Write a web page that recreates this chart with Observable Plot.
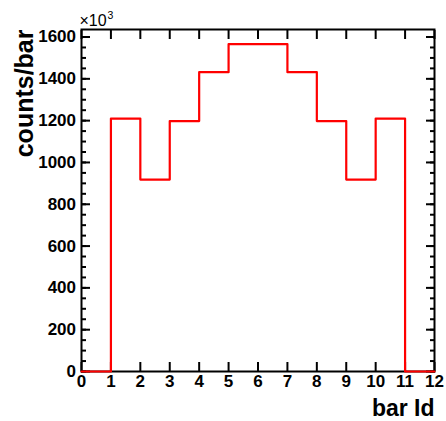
<!DOCTYPE html>
<html>
<head>
<meta charset="utf-8">
<script src="https://cdn.jsdelivr.net/npm/d3@7"></script>
<script src="https://cdn.jsdelivr.net/npm/@observablehq/plot@0.6"></script>
<style>
  html, body { margin: 0; padding: 0; background: #fff; }
  svg { display: block; }
</style>
</head>
<body>
<div id="chart"></div>
<script>
// Histogram data: bar id bins [0,12), counts per bin
const binEdges = [0, 1, 2, 3, 4, 5, 6, 7, 8, 9, 10, 11, 12];
const counts = [0, 1210, 918, 1198, 1432, 1566, 1566, 1432, 1198, 918, 1210, 0];
const xTicks = [0, 1, 2, 3, 4, 5, 6, 7, 8, 9, 10, 11, 12];
const yMajorTicks = [0, 200, 400, 600, 800, 1000, 1200, 1400, 1600];
const yMinorTicks = d3.range(0, 1601, 50);

const stepData = binEdges.map((e, i) => ({x: e, y: counts[Math.min(i, counts.length - 1)]}));

const font = "'Liberation Sans', Arial, Helvetica, sans-serif";

const chart = Plot.plot({
  width: 446,
  height: 421,
  marginLeft: 81,
  marginRight: 12,
  marginTop: 29,
  marginBottom: 50,
  style: {fontFamily: font, color: "#000", background: "#fff"},
  x: {domain: [0, 12]},
  y: {domain: [0, 1636]},
  marks: [
    // tick labels
    Plot.axisX(xTicks, {anchor: "bottom", tickSize: 0, tickPadding: 3, fontSize: 17, fontWeight: "bold", label: null, tickFormat: d => String(d)}),
    Plot.axisY(yMajorTicks, {anchor: "left", tickSize: 0, tickPadding: 5.5, fontSize: 17, fontWeight: "bold", label: null, tickFormat: d => String(d)}),
    // inward ticks
    Plot.axisX(xTicks, {anchor: "bottom", tickSize: -9, fill: "none", strokeWidth: 2, label: null}),
    Plot.axisX(xTicks, {anchor: "top", tickSize: -9, fill: "none", strokeWidth: 2, label: null}),
    Plot.axisY(yMajorTicks, {anchor: "left", tickSize: -9, fill: "none", strokeWidth: 2, label: null}),
    Plot.axisY(yMinorTicks, {anchor: "left", tickSize: -5, fill: "none", strokeWidth: 2, label: null}),
    Plot.axisY(yMajorTicks, {anchor: "right", tickSize: -9, fill: "none", strokeWidth: 2, label: null}),
    Plot.axisY(yMinorTicks, {anchor: "right", tickSize: -5, fill: "none", strokeWidth: 2, label: null}),
    Plot.frame({stroke: "#000", strokeWidth: 2}),
    Plot.line(stepData, {x: "x", y: "y", curve: "step-after", stroke: "#ff0000", strokeWidth: 2.2}),
    // axis titles
    Plot.text(["counts/bar"], {frameAnchor: "top-left", rotate: -90, textAnchor: "end", lineAnchor: "top", dx: -66, fontSize: 25, fontWeight: "bold", fill: "#000"}),
    Plot.text(["bar Id"], {frameAnchor: "bottom-right", textAnchor: "end", lineAnchor: "bottom", dy: 44, fontSize: 23, fontWeight: "bold", fill: "#000"}),
    // exponent label
    Plot.text(["×10"], {frameAnchor: "top-left", textAnchor: "start", lineAnchor: "bottom", dx: -2, dy: -4, fontSize: 16, letterSpacing: 0.5, fill: "#000"}),
    Plot.text(["3"], {frameAnchor: "top-left", textAnchor: "start", lineAnchor: "bottom", dx: 26, dy: -11, fontSize: 10.5, fill: "#000"})
  ]
});

document.getElementById("chart").appendChild(chart);
</script>
</body>
</html>
